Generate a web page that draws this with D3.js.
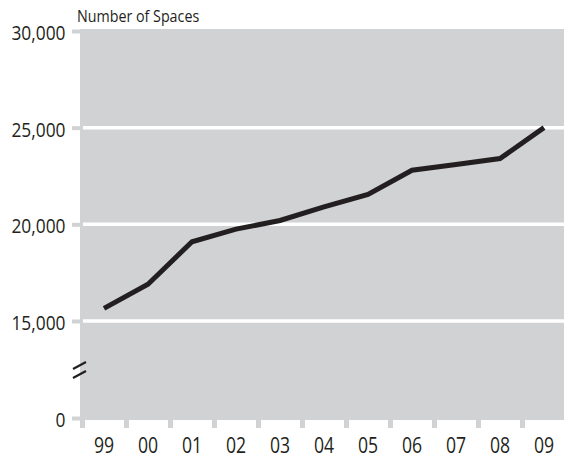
<!DOCTYPE html>
<html><head><meta charset="utf-8">
<script src="https://cdn.jsdelivr.net/npm/d3@7"></script>
<style>
body{margin:0;background:#fff;}
svg text{font-family:"Open Sans",sans-serif;font-weight:400;fill:#231f20;}
</style></head>
<body><svg id="c" width="564" height="458"></svg>
<script>
const categories = ["99","00","01","02","03","04","05","06","07","08","09"];
const spaces = [15650,16900,19100,19750,20200,20900,21550,22800,23100,23400,25000];
const yTicks = [0,15000,20000,25000,30000];
const gridValues = [15000,20000,25000];
const yTitle = "Number of Spaces";

const svg = d3.select("#c");
const plot = {left:80, right:564, top:29, bottom:420};
const gray = "#d1d2d4";

const x = d3.scaleBand().domain(categories).range([82, 82 + 44*categories.length]);
const y = d3.scaleLinear().domain([0,15000,30000]).range([418,321,31]);

svg.append("rect").attr("x",plot.left).attr("y",plot.top)
  .attr("width",plot.right-plot.left).attr("height",plot.bottom-plot.top).attr("fill",gray);

svg.selectAll("line.grid").data(gridValues).enter().append("line")
  .attr("x1",83).attr("x2",plot.right).attr("y1",d=>y(d)).attr("y2",d=>y(d))
  .attr("stroke","#fff").attr("stroke-width",3.5);

const yAxis = d3.axisLeft(y).tickValues(yTicks).tickSize(8).tickPadding(6)
  .tickFormat(d3.format(","));
const ga = svg.append("g").attr("transform",`translate(${plot.left},0)`).call(yAxis);
ga.select(".domain").remove();
ga.selectAll(".tick line").attr("stroke",gray).attr("stroke-width",4);
ga.selectAll(".tick text").attr("font-size",19.5).attr("font-family",null).attr("fill","#231f20")
  .attr("x",0).attr("dy",null).attr("transform","translate(-14.5,8.4) scale(0.89,1)");

const xb = categories.map(c=>x(c));
svg.selectAll("rect.xt").data(xb).enter().append("rect")
  .attr("x",d=>d-2).attr("y",plot.bottom).attr("width",5).attr("height",8).attr("fill",gray);
svg.selectAll("text.xl").data(categories).enter().append("text")
  .attr("transform",d=>`translate(${x(d)+x.bandwidth()/2},452.5) scale(0.84,1)`)
  .attr("text-anchor","middle").attr("font-size",21).text(d=>d);

svg.append("text").attr("transform","translate(77,21.5) scale(0.83,1)")
  .attr("font-size",17.2).text(yTitle);

[369,378].forEach(yy=>{
  svg.append("line").attr("x1",73).attr("y1",yy).attr("x2",86).attr("y2",yy-7)
    .attr("stroke","#231f20").attr("stroke-width",2.2);
});

const line = d3.line().x((d,i)=>x(categories[i])+x.bandwidth()/2).y(d=>y(d));
svg.append("path").datum(spaces).attr("d",line).attr("fill","none")
  .attr("stroke","#231f20").attr("stroke-width",5).attr("stroke-linejoin","miter");
</script></body></html>
